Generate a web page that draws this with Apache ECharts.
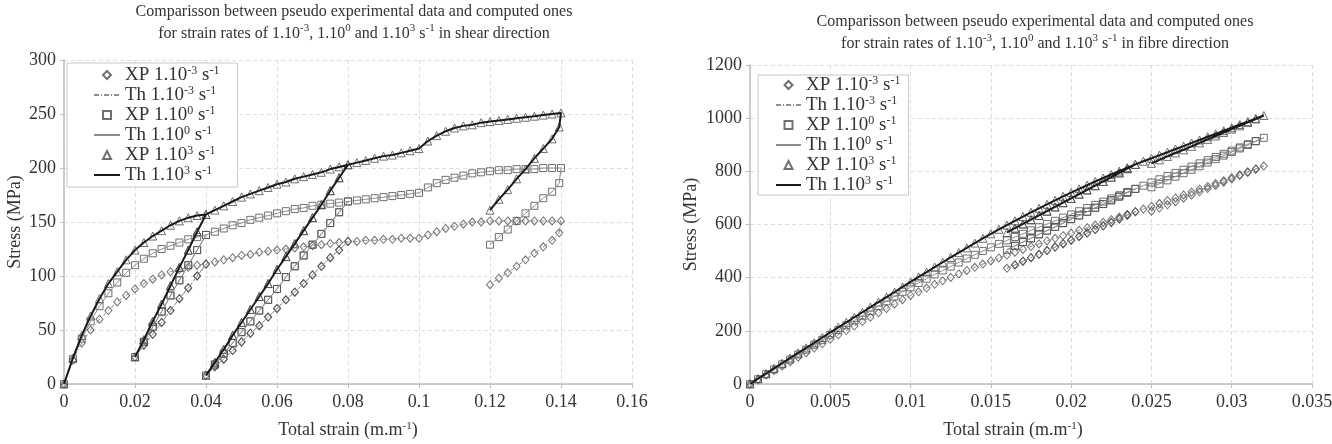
<!DOCTYPE html>
<html>
<head>
<meta charset="utf-8">
<script src="https://cdn.jsdelivr.net/npm/echarts@6/dist/echarts.min.js"></script>
<style>
html, body { margin: 0; padding: 0; background: #fff; }
#chart { width: 1332px; height: 444px; }
</style>
</head>
<body>
<div id="chart"></div>
<script>
// ---- shear direction (left) ----
// loading envelope, strain step 0.0025
var shearStrain = [0, 0.0025, 0.005, 0.0075, 0.01, 0.0125, 0.015, 0.0175, 0.02, 0.0225, 0.025, 0.0275, 0.03, 0.0325, 0.035, 0.0375,
	0.04, 0.0425, 0.045, 0.0475, 0.05, 0.0525, 0.055, 0.0575, 0.06, 0.0625, 0.065, 0.0675, 0.07, 0.0725, 0.075, 0.0775,
	0.08, 0.0825, 0.085, 0.0875, 0.09, 0.0925, 0.095, 0.0975, 0.1, 0.1025, 0.105, 0.1075, 0.11, 0.1125, 0.115, 0.1175,
	0.12, 0.1225, 0.125, 0.1275, 0.13, 0.1325, 0.135, 0.1375, 0.14];
var shearLow = [0, 22, 38, 50, 60, 68, 76, 82, 88, 93, 97, 101, 104, 106, 108, 110,
	111, 113, 115, 117, 119, 120, 122, 123, 124, 125, 126, 127, 128, 129, 130, 131,
	132, 132, 133, 133, 134, 134, 135, 135, 135, 138, 141, 144, 146, 148, 150, 150,
	151, 151, 151, 151, 151, 151, 151, 151, 151];
var shearMid = [0, 23, 42, 58, 72, 84, 94, 103, 110, 116, 121, 125, 128, 131, 134, 136,
	138, 141, 144, 147, 149, 152, 154, 156, 158, 160, 162, 163, 165, 166, 167, 168,
	169, 170, 171, 172, 173, 174, 175, 176, 177, 182, 186, 189, 191, 193, 195, 196,
	197, 198, 198, 199, 199, 199, 200, 200, 200];
var shearHigh = [0, 24, 45, 63, 79, 93, 104, 115, 124, 131, 137, 142, 147, 151, 154, 156,
	157, 161, 165, 169, 173, 176, 179, 182, 185, 187, 190, 192, 194, 196, 199, 201,
	203, 205, 207, 209, 211, 212, 214, 216, 218, 225, 230, 234, 237, 239, 240, 242,
	243, 244, 245, 246, 247, 248, 249, 250, 251];
// unloading branches
var shearUnload1Strain = [0.04, 0.0375, 0.035, 0.0325, 0.03, 0.0275, 0.025, 0.0225, 0.02];
var shearUnload1Low = [111, 100, 89, 79, 68, 57, 46, 36, 25];
var shearUnload1Mid = [138, 124, 110, 96, 82, 67, 53, 39, 25];
var shearUnload1High = [157, 141, 124, 108, 91, 74, 58, 41, 25];
var shearUnload2Strain = [0.08, 0.0775, 0.075, 0.0725, 0.07, 0.0675, 0.065, 0.0625, 0.06, 0.0575, 0.055, 0.0525, 0.05, 0.0475, 0.045, 0.0425, 0.04];
var shearUnload2Low = [132, 124, 117, 109, 101, 93, 85, 78, 70, 62, 54, 47, 39, 31, 23, 16, 8];
var shearUnload2Mid = [169, 159, 149, 139, 129, 119, 109, 99, 88, 78, 68, 58, 48, 38, 28, 18, 8];
var shearUnload2High = [203, 191, 179, 166, 154, 142, 130, 118, 106, 93, 81, 69, 57, 45, 32, 20, 8];
var shearUnload3Strain = [0.14, 0.1395, 0.1375, 0.135, 0.1325, 0.13, 0.1275, 0.125, 0.1225, 0.12];
var shearUnload3Low = [151, 140, 133, 127, 121, 115, 109, 103, 98, 92];
var shearUnload3Mid = [200, 186, 178, 172, 165, 158, 151, 143, 136, 129];
var shearUnload3High = [251, 238, 227, 218, 209, 199, 190, 180, 171, 161];

// ---- fibre direction (right) ----
var fibreStrain = [0, 0.0005, 0.001, 0.0015, 0.002, 0.0025, 0.003, 0.0035, 0.004, 0.0045, 0.005, 0.0055, 0.006, 0.0065, 0.007, 0.0075,
	0.008, 0.0085, 0.009, 0.0095, 0.01, 0.0105, 0.011, 0.0115, 0.012, 0.0125, 0.013, 0.0135, 0.014, 0.0145, 0.015, 0.0155,
	0.016, 0.0165, 0.017, 0.0175, 0.018, 0.0185, 0.019, 0.0195, 0.02, 0.0205, 0.021, 0.0215, 0.022, 0.0225, 0.023, 0.0235,
	0.024, 0.0245, 0.025, 0.0255, 0.026, 0.0265, 0.027, 0.0275, 0.028, 0.0285, 0.029, 0.0295, 0.03, 0.0305, 0.031, 0.0315, 0.032];
var fibreLow = [0, 17, 34, 51, 68, 84, 101, 118, 135, 151, 168, 185, 201, 218, 235, 251,
	268, 284, 301, 317, 333, 347, 361, 375, 388, 401, 414, 427, 439, 451, 463, 474,
	485, 496, 506, 517, 527, 538, 548, 558, 568, 578, 588, 598, 608, 618, 628, 638,
	648, 658, 668, 679, 690, 700, 711, 722, 733, 743, 754, 765, 776, 787, 798, 809, 820];
var fibreMid = [0, 18, 37, 55, 74, 92, 111, 129, 148, 166, 185, 203, 221, 239, 257, 275,
	293, 311, 329, 347, 364, 380, 396, 412, 427, 442, 457, 472, 486, 500, 514, 527,
	540, 553, 565, 578, 590, 602, 614, 626, 638, 650, 662, 674, 686, 698, 710, 722,
	734, 746, 758, 770, 782, 794, 806, 818, 830, 842, 854, 866, 878, 890, 902, 914, 926];
var fibreHigh = [0, 20, 39, 59, 78, 98, 117, 136, 155, 175, 194, 213, 232, 251, 270, 289,
	308, 327, 346, 365, 384, 403, 421, 440, 458, 476, 494, 512, 530, 548, 565, 582,
	598, 614, 630, 646, 661, 676, 691, 706, 720, 734, 748, 762, 775, 788, 801, 814,
	826, 838, 849, 861, 872, 884, 895, 907, 918, 930, 941, 953, 964, 976, 987, 999, 1010];
var fibreUnload1Strain = [0.024, 0.0235, 0.023, 0.0225, 0.022, 0.0215, 0.021, 0.0205, 0.02, 0.0195, 0.019, 0.0185, 0.018, 0.0175, 0.017, 0.0165, 0.016];
var fibreUnload1Low = [648, 635, 621, 608, 595, 581, 568, 555, 541, 528, 515, 502, 488, 475, 462, 448, 435];
var fibreUnload1Mid = [734, 720, 705, 691, 677, 663, 648, 634, 620, 605, 591, 577, 563, 548, 534, 520, 505];
var fibreUnload1High = [826, 810, 794, 778, 762, 746, 730, 714, 698, 682, 666, 650, 634, 618, 602, 586, 570];
var fibreUnload2Strain = [0.032, 0.0315, 0.031, 0.0305, 0.03, 0.0295, 0.029, 0.0285, 0.028, 0.0275, 0.027, 0.0265, 0.026, 0.0255, 0.025];
var fibreUnload2Low = [820, 808, 796, 784, 771, 759, 747, 735, 723, 711, 699, 686, 674, 662, 650];
var fibreUnload2Mid = [926, 913, 899, 886, 873, 859, 846, 833, 819, 806, 793, 780, 766, 753, 740];
var fibreUnload2High = [1010, 997, 984, 971, 959, 946, 933, 920, 907, 894, 881, 869, 856, 843, 830];

var seriesNames = ['XP 1.10-3 s-1', 'Th 1.10-3 s-1', 'XP 1.100 s-1', 'Th 1.100 s-1', 'XP 1.103 s-1', 'Th 1.103 s-1'];

var FONT = 'Liberation Serif';
var supStyle = { fontFamily: FONT, fontSize: 11, verticalAlign: 'top', color: '#333' };

// envelope up to each cut, then the unloading branch and back up again
function buildPath(strain, env, cuts, branchStrain, branchStress) {
	var pts = [];
	var start = 0;
	cuts.forEach(function (c, i) {
		for (var k = start; k <= c; k++) pts.push([strain[k], env[k]]);
		var bs = branchStrain[i], bv = branchStress[i];
		for (var k = 1; k < bs.length; k++) pts.push([bs[k], bv[k]]);
		if (c < strain.length - 1) {
			for (var k = bs.length - 2; k >= 0; k--) pts.push([bs[k], bv[k]]);
		}
		start = c + 1;
	});
	return pts;
}

var shearCuts = [16, 32, 56];
var shearBranchStrain = [shearUnload1Strain, shearUnload2Strain, shearUnload3Strain];
var shearPaths = [
	buildPath(shearStrain, shearLow, shearCuts, shearBranchStrain, [shearUnload1Low, shearUnload2Low, shearUnload3Low]),
	buildPath(shearStrain, shearMid, shearCuts, shearBranchStrain, [shearUnload1Mid, shearUnload2Mid, shearUnload3Mid]),
	buildPath(shearStrain, shearHigh, shearCuts, shearBranchStrain, [shearUnload1High, shearUnload2High, shearUnload3High])
];
var fibreCuts = [48, 64];
var fibreBranchStrain = [fibreUnload1Strain, fibreUnload2Strain];
var fibrePaths = [
	buildPath(fibreStrain, fibreLow, fibreCuts, fibreBranchStrain, [fibreUnload1Low, fibreUnload2Low]),
	buildPath(fibreStrain, fibreMid, fibreCuts, fibreBranchStrain, [fibreUnload1Mid, fibreUnload2Mid]),
	buildPath(fibreStrain, fibreHigh, fibreCuts, fibreBranchStrain, [fibreUnload1High, fibreUnload2High])
];

var markerStyle = { color: 'rgba(255,255,255,0)', borderColor: '#4d4d4d', borderWidth: 1 };
var symbols = ['diamond', 'rect', 'triangle'];
var symbolSizes = [[7, 8], 7, 8];
// same shapes as paths so the legend keeps them square
var legendIcons = ['path://M4,0L8,4L4,8L0,4Z', 'path://M0,0L8,0L8,8L0,8Z', 'path://M4,0L8,8L0,8Z'];
var thLines = [
	{ color: '#8c8c8c', width: 1, type: [5, 2, 1, 2] },
	{ color: '#8c8c8c', width: 1, type: 'solid' },
	{ color: '#1a1a1a', width: 2, type: 'solid' }
];

function makeSeries(idx, paths) {
	var out = [];
	paths.forEach(function (p, i) {
		out.push({
			name: seriesNames[i * 2], type: 'scatter', xAxisIndex: idx, yAxisIndex: idx,
			data: p, symbol: symbols[i], symbolSize: symbolSizes[i], itemStyle: markerStyle, z: 2
		});
	});
	paths.forEach(function (p, i) {
		out.push({
			name: seriesNames[i * 2 + 1], type: 'line', xAxisIndex: idx, yAxisIndex: idx,
			data: p, symbol: 'none', showSymbol: false, lineStyle: thLines[i], z: 3
		});
	});
	return out;
}

function legendLabel(name) {
	var parts = name.split(' ');
	return parts[0] + ' 1.10{s|' + parts[1].slice(4) + '} s{s|-1}';
}

// the line entries get no dot in their legend icon
var legendData = seriesNames.map(function (n, i) {
	return i % 2 ? { name: n, itemStyle: { opacity: 0 } } : { name: n, icon: legendIcons[i / 2] };
});

function makeLegend(left, top, padding, itemWidth, gap) {
	return {
		orient: 'vertical', left: left, top: top, padding: padding,
		data: legendData, itemWidth: itemWidth, itemHeight: 8, itemGap: 0, symbolKeepAspect: true,
		itemTextGap: gap, borderColor: '#c8c8c8', borderWidth: 1, backgroundColor: '#fff',
		selectedMode: false, formatter: legendLabel,
		textStyle: {
			fontFamily: FONT, fontSize: 19, color: '#333', lineHeight: 20,
			rich: { s: { fontFamily: FONT, fontSize: 12, verticalAlign: 'top', color: '#333' } }
		}
	};
}

function makeXAxis(idx, max, interval, namePad) {
	return {
		gridIndex: idx, type: 'value', min: 0, max: max, interval: interval,
		name: 'Total strain (m.m{s|-1})', nameLocation: 'middle', nameGap: 37,
		nameTextStyle: { fontFamily: FONT, fontSize: 18, color: '#333', padding: namePad, rich: { s: supStyle } },
		axisLine: { show: true, lineStyle: { color: '#bdbdbd', width: 1.5 } },
		axisTick: { show: true, length: 4, lineStyle: { color: '#bdbdbd' } },
		axisLabel: { fontFamily: FONT, fontSize: 18, color: '#333', margin: 9 },
		splitLine: { show: true, lineStyle: { color: '#dedede', type: [4, 3] } }
	};
}

function makeYAxis(idx, max, interval, gap) {
	return {
		gridIndex: idx, type: 'value', min: 0, max: max, interval: interval,
		name: 'Stress (MPa)', nameLocation: 'middle', nameGap: gap,
		nameTextStyle: { fontFamily: FONT, fontSize: 18, color: '#333' },
		axisLine: { show: true, lineStyle: { color: '#bdbdbd', width: 1.5 } },
		axisTick: { show: true, length: 4, lineStyle: { color: '#bdbdbd' } },
		axisLabel: {
			fontFamily: FONT, fontSize: 18, color: '#333', margin: 8,
			formatter: function (v) { return String(v); }
		},
		splitLine: { show: true, lineStyle: { color: '#dedede', type: [4, 3] } }
	};
}

function makeTitle(dir, left, top) {
	return {
		text: 'Comparisson between pseudo experimental data and computed ones\n' +
			'for strain rates of 1.10{s|-3}, 1.10{s|0} and 1.10{s|3} s{s|-1} in ' + dir + ' direction',
		left: left, top: top, textAlign: 'center', padding: 0,
		textStyle: {
			fontFamily: FONT, fontSize: 16, fontWeight: 'normal', color: '#333', lineHeight: 22,
			rich: { s: supStyle }
		}
	};
}

var chart = echarts.init(document.getElementById('chart'));
chart.setOption({
	animation: false,
	backgroundColor: '#fff',
	title: [makeTitle('shear', 354, 1), makeTitle('fibre', 1035, 11)],
	legend: [
		makeLegend(67, 63, [2, 18, 2, 26], 26, 9),
		makeLegend(758, 75, [0, 8, 0, 17], 25, 5)
	],
	grid: [
		{ left: 64, top: 60, width: 568, height: 324, outerBoundsMode: 'none' },
		{ left: 750, top: 65, width: 562, height: 319, outerBoundsMode: 'none' }
	],
	xAxis: [makeXAxis(0, 0.16, 0.02, [0, 0, 0, 0]), makeXAxis(1, 0.035, 0.005, [0, 36, 0, 0])],
	yAxis: [makeYAxis(0, 300, 50, 40), makeYAxis(1, 1200, 200, 50)],
	series: makeSeries(0, shearPaths).concat(makeSeries(1, fibrePaths))
});
</script>
</body>
</html>
